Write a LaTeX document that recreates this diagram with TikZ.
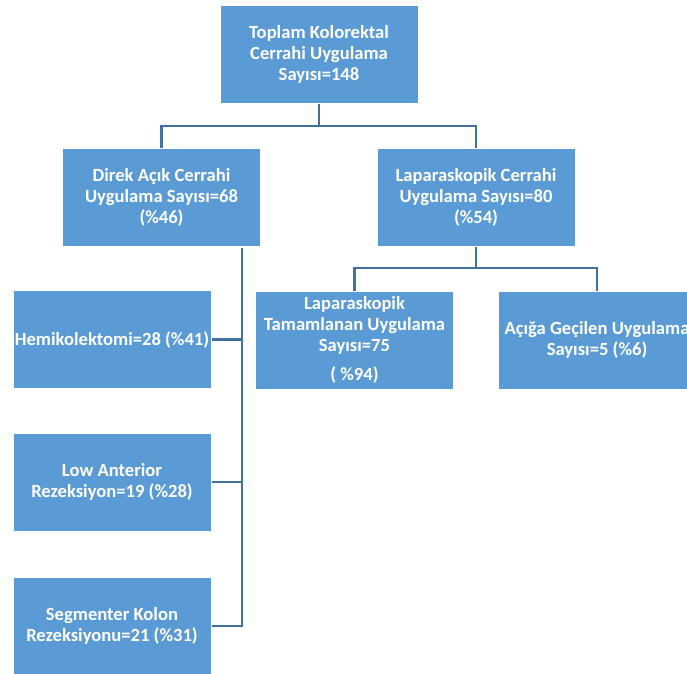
\documentclass[tikz,border=0pt]{standalone}
\usepackage{fontspec}
\setmainfont{Carlito}
\definecolor{boxblue}{HTML}{5B9BD5}
\definecolor{lineblue}{HTML}{41719C}
\tikzset{
  box/.style={rectangle, fill=boxblue, draw=white, line width=1pt,
    minimum width=198pt, minimum height=98pt, inner sep=1pt,
    align=center, text=white, font=\fontsize{18.6}{21}\selectfont\bfseries},
  conn/.style={draw=lineblue, line width=2.6pt}
}
\begin{document}
\begin{tikzpicture}[x=1pt,y=-1pt]
\useasboundingbox (0,0) rectangle (687,673);
\clip (0,0) rectangle (687,673);
\fill[white] (0,0) rectangle (687,673);

\node[box] (top) at (319,54.5) {Toplam Kolorektal\\Cerrahi Uygulama\\Sayısı=148};
\node[box] (direk) at (161.5,197.5) {Direk Açık Cerrahi\\Uygulama Sayısı=68\\(\%46)};
\node[box] (lap) at (476,197.5) {Laparaskopik Cerrahi\\Uygulama Sayısı=80\\(\%54)};
\node[box] (hemi) at (112,339.5) {Hemikolektomi=28 (\%41)};
\node[box] (low) at (112,482) {Low Anterior\\Rezeksiyon=19 (\%28)};
\node[box] (seg) at (112,626) {Segmenter Kolon\\Rezeksiyonu=21 (\%31)};
\node[box] (tam) at (354.5,340) {Laparaskopik\\Tamamlanan Uygulama\\Sayısı=75\\[7.5pt]( \%94)};
\node[box] (aci) at (597,340) {Açığa Geçilen Uygulama\\Sayısı=5 (\%6)};

\coordinate (m1) at (319,126);
\coordinate (m2) at (476,268);
\coordinate (dt) at (242,248);

\draw[conn] (top.south) -- (m1);
\draw[conn] (direk.north) |- (m1) -| (lap.north);
\draw[conn] (lap.south) -- (m2);
\draw[conn] (tam.north) |- (m2) -| (aci.north);
\draw[conn] (dt) |- (seg.east);
\draw[conn] (hemi.east) -- (hemi.east -| dt);
\draw[conn] (low.east) -- (low.east -| dt);
\end{tikzpicture}
\end{document}
